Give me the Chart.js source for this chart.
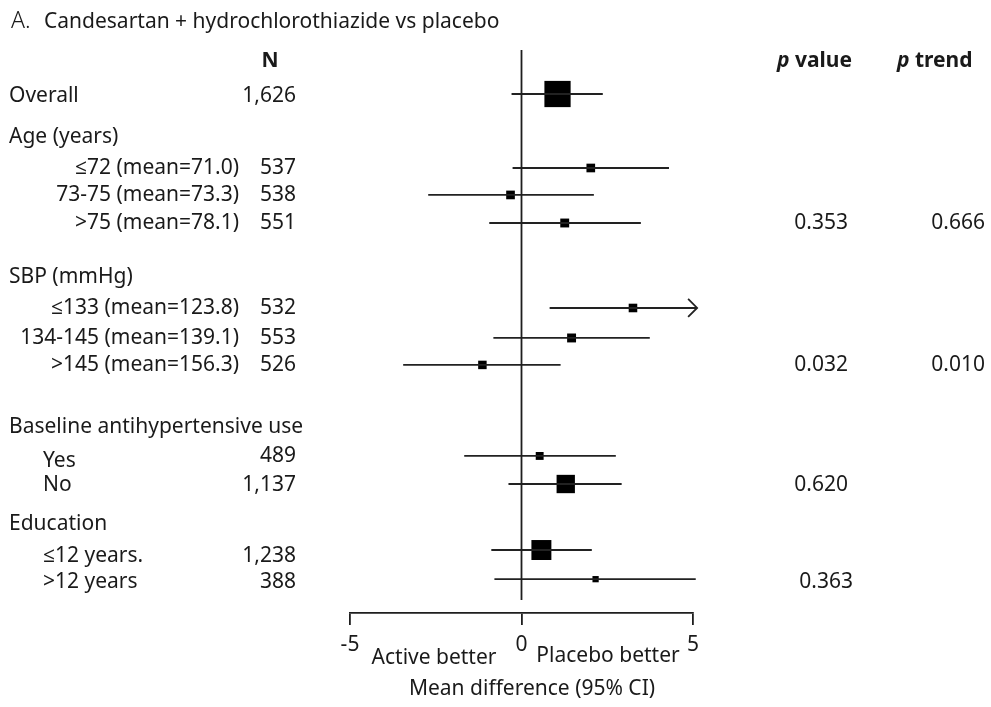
<!DOCTYPE html>
<html>
<head>
<meta charset="utf-8">
<script src="https://cdn.jsdelivr.net/npm/chart.js@4"></script>
<style>
  html, body { margin: 0; padding: 0; background: #fff; }
  #wrap { width: 991px; height: 707px; position: relative; }
</style>
</head>
<body>
<div id="wrap"><canvas id="forest"></canvas></div>
<script>
// ---- data ----
const titleLetter = "A.";
const titleText = "Candesartan + hydrochlorothiazide vs placebo";
const rowLabels = [
  "Overall",
  "≤72 (mean=71.0)", "73-75 (mean=73.3)", ">75 (mean=78.1)",
  "≤133 (mean=123.8)", "134-145 (mean=139.1)", ">145 (mean=156.3)",
  "Yes", "No",
  "≤12 years.", ">12 years"
];
const nValues = [1626, 537, 538, 551, 532, 553, 526, 489, 1137, 1238, 388];
const meanDiff = [1.05, 2.02, -0.32, 1.26, 3.25, 1.46, -1.14, 0.53, 1.29, 0.58, 2.16];
const ciLow = [-0.29, -0.26, -2.72, -0.94, 0.82, -0.82, -3.45, -1.67, -0.38, -0.88, -0.79];
const ciHigh = [2.37, 4.30, 2.11, 3.48, 5.6, 3.74, 1.14, 2.75, 2.92, 2.05, 5.08];
const groupNames = ["Age (years)", "SBP (mmHg)", "Baseline antihypertensive use", "Education"];
const pValues = ["0.353", "0.032", "0.620", "0.363"];
const pTrend = ["0.666", "0.010", "", ""];
const xTicks = [-5, 0, 5];
const leftLabel = "Active better";
const rightLabel = "Placebo better";
const xTitle = "Mean difference (95% CI)";

// ---- layout (row positions in line units from the top of the plot) ----
const rowPos = [1.6, 4.29, 5.27, 6.29, 9.38, 10.47, 11.45, 14.76, 15.78, 18.18, 19.24];
const rowTextShift = [2, 0, 0, 0, 0, 0, 0, 5, 1, 6, 3];    // px, labels sit a bit lower
const rowIndent = ["left0", "right", "right", "right", "right", "right", "right", "left1", "left1", "left1", "left1"];
const groupPos = [3.16, 8.25, 13.71, 17.24];
const groupLastRow = [3, 6, 8, 10];
const headerPos = 0.4;
const zeroLineEnd = 20.0;
const yMax = 20.47;
const xArrowAt = 5.12;
const FONT = "'Noto Sans', 'Open Sans', sans-serif";
const FS = 21;
const INK = "#1a1a1a";

const datasets = [];
// zero line
datasets.push({
  type: "line", data: [{ x: 0, y: 0 }, { x: 0, y: zeroLineEnd }],
  borderColor: "#1e1e1e", borderWidth: 1.8, pointRadius: 0, clip: false
});
// CI whiskers
rowLabels.forEach((lab, i) => {
  datasets.push({
    type: "line",
    data: [{ x: ciLow[i], y: rowPos[i] }, { x: Math.min(ciHigh[i], xArrowAt), y: rowPos[i] }],
    borderColor: "#222", borderWidth: 1.8, pointRadius: 0, clip: false
  });
});
// point estimates, square size proportional to N
datasets.push({
  type: "scatter",
  data: meanDiff.map((m, i) => ({ x: m, y: rowPos[i] })),
  pointStyle: "rect",
  pointRadius: nValues.map(n => (n / 62) / Math.SQRT2),
  pointHoverRadius: nValues.map(n => (n / 62) / Math.SQRT2),
  backgroundColor: "#000", borderColor: "#000", borderWidth: 0, clip: false
});

const textPlugin = {
  id: "forestText",
  afterDraw(chart) {
    const ctx = chart.ctx;
    const y = chart.scales.y, x = chart.scales.x;
    const py = v => y.getPixelForValue(v);
    ctx.save();
    ctx.fillStyle = INK;
    ctx.textBaseline = "middle";

    // title
    ctx.textAlign = "left";
    ctx.font = "300 23px " + FONT;
    ctx.fillText(titleLetter, 11, 21);
    ctx.font = FS + "px " + FONT;
    ctx.fillText(titleText, 44, 22);

    // headers
    ctx.font = "bold " + FS + "px " + FONT;
    ctx.textAlign = "center";
    ctx.fillText("N", 270, py(headerPos));
    ctx.textAlign = "left";
    const hdr = (x0, word) => {
      ctx.font = "italic bold " + FS + "px " + FONT;
      ctx.fillText("p", x0, py(headerPos));
      const w = ctx.measureText("p ").width;
      ctx.font = "bold " + FS + "px " + FONT;
      ctx.fillText(word, x0 + w, py(headerPos));
    };
    hdr(777, "value");
    hdr(897, "trend");

    // rows
    ctx.font = FS + "px " + FONT;
    rowLabels.forEach((lab, i) => {
      const yy = py(rowPos[i]) + rowTextShift[i];
      if (rowIndent[i] === "right") { ctx.textAlign = "right"; ctx.fillText(lab, 239, yy); }
      else { ctx.textAlign = "left"; ctx.fillText(lab, rowIndent[i] === "left0" ? 9 : 43, yy); }
      ctx.textAlign = "right";
      const nShift = i === 7 ? 0 : rowTextShift[i];
      ctx.fillText(nValues[i].toLocaleString("en-US"), 296, py(rowPos[i]) + nShift);
    });
    ctx.textAlign = "left";
    groupNames.forEach((g, k) => ctx.fillText(g, 9, py(groupPos[k])));

    // p columns
    ctx.textAlign = "right";
    groupLastRow.forEach((r, k) => {
      const yy = py(rowPos[r]) + rowTextShift[r];
      ctx.fillText(pValues[k], k === 3 ? 853 : 848, yy);
      if (pTrend[k]) ctx.fillText(pTrend[k], 985, yy);
    });

    // arrow heads for truncated intervals
    ctx.strokeStyle = "#222";
    ctx.lineWidth = 1.8;
    ciHigh.forEach((h, i) => {
      if (h <= xArrowAt) return;
      const tx = x.getPixelForValue(xArrowAt), ty = py(rowPos[i]);
      ctx.beginPath();
      ctx.moveTo(tx - 9, ty - 9); ctx.lineTo(tx, ty); ctx.lineTo(tx - 9, ty + 9);
      ctx.stroke();
    });

    // axis annotations
    ctx.textAlign = "center";
    ctx.font = FS + "px " + FONT;
    ctx.fillText(leftLabel, 434, 658);
    ctx.fillText(rightLabel, 608, 656);
    ctx.fillText(xTitle, 532, 689);
    ctx.restore();
  }
};

new Chart(document.getElementById("forest"), {
  data: { datasets },
  options: {
    responsive: true,
    maintainAspectRatio: false,
    animation: false,
    events: [],
    layout: { padding: { left: 350, right: 298, top: 50, bottom: 0 } },
    plugins: { legend: { display: false }, tooltip: { enabled: false } },
    scales: {
      x: {
        type: "linear", min: -5, max: 5,
        afterBuildTicks: s => { s.ticks = xTicks.map(v => ({ value: v })); },
        afterFit: s => { s.height = 94; },
        border: { display: true, color: "#1e1e1e", width: 1.8 },
        grid: { drawOnChartArea: false, drawTicks: true, tickLength: 12, color: "#1e1e1e", lineWidth: 1.8 },
        ticks: { color: INK, padding: 7, font: { family: FONT, size: FS }, maxRotation: 0 }
      },
      y: { type: "linear", min: 0, max: yMax, reverse: true, display: false }
    }
  },
  plugins: [textPlugin]
});
</script>
</body>
</html>
